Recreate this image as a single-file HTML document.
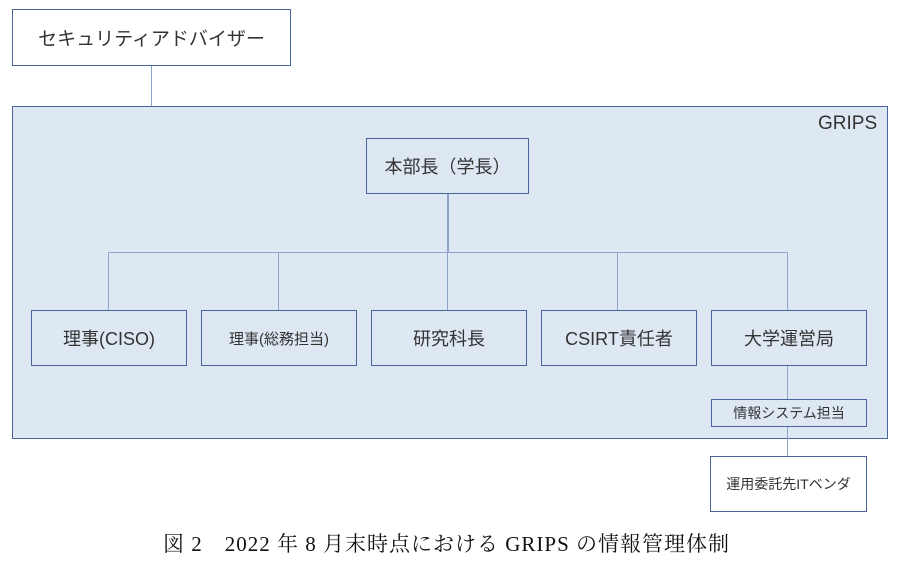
<!DOCTYPE html>
<html><head><meta charset="utf-8"><style>
body{margin:0;width:906px;height:568px;background:#fff;position:relative;overflow:hidden;font-family:"Liberation Sans","Noto Sans CJK JP",sans-serif;color:#333}
.b{position:absolute;box-sizing:border-box;border:1.5px solid #4a64a0;display:flex;align-items:center;justify-content:center;background:#dee8f3;font-size:18px;white-space:nowrap}
.w{background:#fff}
.l{position:absolute;background:#8fa3cc}
</style></head><body>
<div class="b" style="left:12px;top:106px;width:876px;height:333px"></div>
<div style="position:absolute;left:818px;top:113px;font-size:19px;color:#333">GRIPS</div>
<div class="b w" style="left:12px;top:9px;width:279px;height:57px;font-size:19px">セキュリティアドバイザー</div>
<div class="l" style="left:151px;top:66px;width:1px;height:40px"></div>
<div class="b" style="left:366px;top:138px;width:163px;height:56px">本部長（学長）</div>
<div class="l" style="left:447px;top:194px;width:1.5px;height:58px"></div>
<div class="l" style="left:108px;top:252px;width:680px;height:1px"></div>
<div class="l" style="left:108px;top:252px;width:1px;height:58px"></div>
<div class="l" style="left:278px;top:252px;width:1px;height:58px"></div>
<div class="l" style="left:447px;top:252px;width:1px;height:58px"></div>
<div class="l" style="left:617px;top:252px;width:1px;height:58px"></div>
<div class="l" style="left:787px;top:252px;width:1px;height:58px"></div>
<div class="b" style="left:31px;top:310px;width:156px;height:56px">理事(CISO)</div>
<div class="b" style="left:201px;top:310px;width:156px;height:56px;font-size:15px">理事(総務担当)</div>
<div class="b" style="left:371px;top:310px;width:156px;height:56px">研究科長</div>
<div class="b" style="left:541px;top:310px;width:156px;height:56px">CSIRT責任者</div>
<div class="b" style="left:711px;top:310px;width:156px;height:56px">大学運営局</div>
<div class="l" style="left:787px;top:366px;width:1px;height:33px"></div>
<div class="b" style="left:711px;top:399px;width:156px;height:28px;font-size:14px">情報システム担当</div>
<div class="l" style="left:787px;top:427px;width:1px;height:29px"></div>
<div class="b w" style="left:710px;top:456px;width:157px;height:56px;font-size:14px">運用委託先ITベンダ</div>
<div style="position:absolute;left:163px;top:528px;font-family:'Liberation Serif','Noto Serif CJK SC',serif;font-size:21px;letter-spacing:1px;color:#111;white-space:nowrap">図 2　2022 年 8 月末時点における GRIPS の情報管理体制</div>
</body></html>
